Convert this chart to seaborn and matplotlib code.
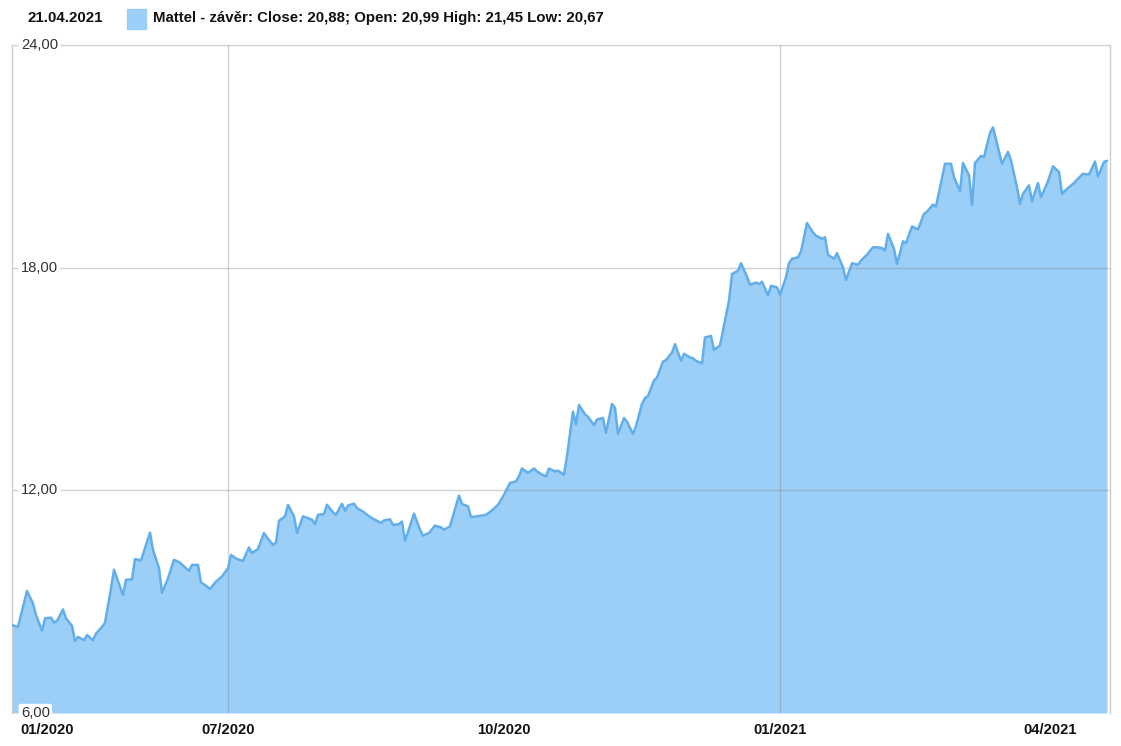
import pandas as pd
import matplotlib
matplotlib.use("Agg")
import matplotlib.pyplot as plt
from matplotlib.patches import Rectangle
import seaborn as sns

# Mattel daily close (day offsets from the first point)
start_date = "2020-04-20"
day_offsets = [0, 2, 5, 7, 8, 10, 11, 13, 14, 15,
               17, 18, 20, 21, 22, 24, 25, 27, 28, 30,
               31, 33, 34, 36, 37, 38, 40, 41, 43, 46,
               47, 49, 50, 52, 54, 56, 58, 59, 60, 62,
               63, 65, 66, 68, 70, 72, 73, 75, 77, 79,
               80, 82, 84, 85, 87, 88, 89, 91, 92, 94,
               95, 97, 98, 100, 101, 102, 104, 105, 107, 108,
               110, 111, 112, 114, 115, 117, 119, 120, 123, 124,
               126, 127, 129, 130, 131, 133, 134, 136, 137, 139,
               141, 143, 144, 146, 149, 150, 152, 153, 155, 158,
               160, 162, 164, 166, 168, 169, 170, 172, 174, 175,
               177, 178, 179, 181, 182, 184, 185, 187, 188, 189,
               191, 192, 194, 195, 197, 198, 200, 201, 202, 204,
               205, 207, 208, 210, 211, 212, 214, 215, 217, 218,
               220, 221, 223, 224, 226, 227, 228, 230, 231, 233,
               234, 236, 237, 239, 240, 242, 243, 245, 246, 248,
               249, 250, 252, 253, 255, 256, 258, 259, 260, 262,
               263, 265, 267, 268, 270, 271, 272, 274, 275, 277,
               278, 280, 282, 283, 285, 287, 288, 290, 291, 292,
               294, 295, 297, 298, 300, 302, 304, 305, 307, 308,
               311, 313, 314, 316, 317, 319, 320, 321, 323, 324,
               326, 327, 329, 330, 332, 333, 335, 336, 337, 339,
               340, 342, 343, 345, 347, 349, 350, 352, 354, 355,
               357, 359, 361, 362, 364, 365]
close = [8.37, 8.32, 9.29, 8.95, 8.64, 8.22, 8.55, 8.57, 8.44, 8.48,
         8.79, 8.55, 8.35, 7.94, 8.05, 7.96, 8.10, 7.96, 8.14, 8.32,
         8.43, 9.36, 9.86, 9.41, 9.18, 9.59, 9.60, 10.15, 10.11, 10.86,
         10.40, 9.90, 9.24, 9.63, 10.13, 10.05, 9.90, 9.83, 9.99, 9.99,
         9.52, 9.41, 9.34, 9.54, 9.68, 9.90, 10.26, 10.15, 10.10, 10.46,
         10.31, 10.42, 10.85, 10.73, 10.53, 10.59, 11.18, 11.30, 11.61, 11.30,
         10.85, 11.30, 11.27, 11.21, 11.09, 11.34, 11.36, 11.61, 11.41, 11.34,
         11.64, 11.45, 11.59, 11.64, 11.52, 11.43, 11.30, 11.25, 11.12, 11.19,
         11.22, 11.07, 11.09, 11.16, 10.64, 11.12, 11.37, 10.94, 10.78, 10.85,
         11.05, 11.00, 10.94, 11.03, 11.86, 11.63, 11.57, 11.28, 11.30, 11.34,
         11.46, 11.61, 11.88, 12.20, 12.24, 12.38, 12.59, 12.47, 12.59, 12.51,
         12.41, 12.38, 12.59, 12.51, 12.53, 12.42, 12.92, 14.12, 13.78, 14.30,
         14.05, 13.98, 13.76, 13.91, 13.95, 13.55, 14.33, 14.22, 13.52, 13.95,
         13.85, 13.52, 13.73, 14.33, 14.49, 14.54, 14.96, 15.04, 15.47, 15.51,
         15.71, 15.94, 15.49, 15.68, 15.58, 15.56, 15.49, 15.42, 16.12, 16.16,
         15.78, 15.91, 16.30, 17.11, 17.83, 17.92, 18.12, 17.76, 17.54, 17.60,
         17.56, 17.62, 17.26, 17.51, 17.47, 17.27, 17.74, 18.12, 18.24, 18.28,
         18.44, 19.20, 18.95, 18.86, 18.78, 18.82, 18.35, 18.24, 18.39, 18.01,
         17.67, 18.12, 18.08, 18.19, 18.35, 18.55, 18.55, 18.53, 18.46, 18.91,
         18.51, 18.10, 18.71, 18.66, 19.11, 19.03, 19.45, 19.51, 19.70, 19.65,
         20.80, 20.80, 20.44, 20.06, 20.82, 20.49, 19.69, 20.82, 21.01, 20.98,
         21.63, 21.78, 21.12, 20.80, 21.12, 20.89, 20.17, 19.72, 19.99, 20.22,
         19.79, 20.28, 19.90, 20.26, 20.73, 20.58, 19.99, 20.15, 20.28, 20.37,
         20.53, 20.51, 20.86, 20.46, 20.85, 20.88]

y_ticks = [6, 12, 18, 24]
x_tick_dates = ["2020-07-01", "2020-10-01", "2021-01-01", "2021-04-01"]
x_tick_labels = ["07/2020", "10/2020", "01/2021", "04/2021"]
grid_dates = ["2020-07-01", "2021-01-01"]
first_label = "01/2020"
header_date = "21.04.2021"
header_text = "Mattel - závěr: Close: 20,88; Open: 20,99 High: 21,45 Low: 20,67"

df = pd.DataFrame({
    "date": pd.Timestamp(start_date) + pd.to_timedelta(day_offsets, unit="D"),
    "close": close,
})

sns.set_style("white")
plt.rcParams["font.family"] = ["Liberation Sans", "DejaVu Sans"]

fill_color = "#9ccff8"
line_color = "#62aeea"

W, H = 1121, 746
fig = plt.figure(figsize=(W / 100, H / 100), dpi=100)
ax = fig.add_axes([12 / W, 1 - 713 / H, (1110 - 12) / W, (713 - 45) / H])

# area + outline
ax.fill_between(df["date"], df["close"], y_ticks[0], color=fill_color, lw=0, zorder=1)
sns.lineplot(data=df, x="date", y="close", ax=ax, color=line_color, lw=1.8, zorder=3)

ax.set_xlim(pd.Timestamp("2020-04-20"), pd.Timestamp("2021-04-21"))
ax.set_ylim(y_ticks[0], y_ticks[-1])

# grid drawn over the fill so it shows through faintly
for v in y_ticks[1:]:
    ax.axhline(v, color="#808080", alpha=0.35, lw=1, zorder=2, clip_on=False)
for d in grid_dates:
    ax.axvline(pd.Timestamp(d), color="#808080", alpha=0.35, lw=1, zorder=2)

for side in ["top", "bottom"]:
    ax.spines[side].set_visible(False)
for side in ["left", "right"]:
    ax.spines[side].set_color("#cccccc")
    ax.spines[side].set_linewidth(1)

ax.set_xlabel("")
ax.set_ylabel("")
ax.set_yticks([])
ax.set_xticks([pd.Timestamp(d) for d in x_tick_dates])
ax.set_xticklabels(x_tick_labels, fontsize=10.6, fontweight="bold", color="#111111")
ax.tick_params(axis="x", length=0, pad=7)

# y labels sit inside the plot on white boxes
for v in y_ticks:
    ax.text(0.008, v, f"{v:.2f}".replace(".", ","), transform=ax.get_yaxis_transform(),
            ha="left", va="center", fontsize=10.6, color="#333333", zorder=5,
            bbox=dict(boxstyle="round,pad=0.15", fc="white", ec="none"))

fig.text(20 / W, 1 - 730 / H, first_label, ha="left", va="center",
         fontsize=10.6, fontweight="bold", color="#111111")

# header
fig.text(27 / W, 1 - 18 / H, header_date, ha="left", va="center",
         fontsize=10.8, fontweight="bold", color="#111111")
fig.patches.append(Rectangle((127 / W, 1 - 29 / H), 19 / W, 20 / H,
                             transform=fig.transFigure, color=fill_color))
fig.text(153 / W, 1 - 18 / H, header_text, ha="left", va="center",
         fontsize=10.8, fontweight="bold", color="#111111")

fig.savefig("out.png", dpi=100)
